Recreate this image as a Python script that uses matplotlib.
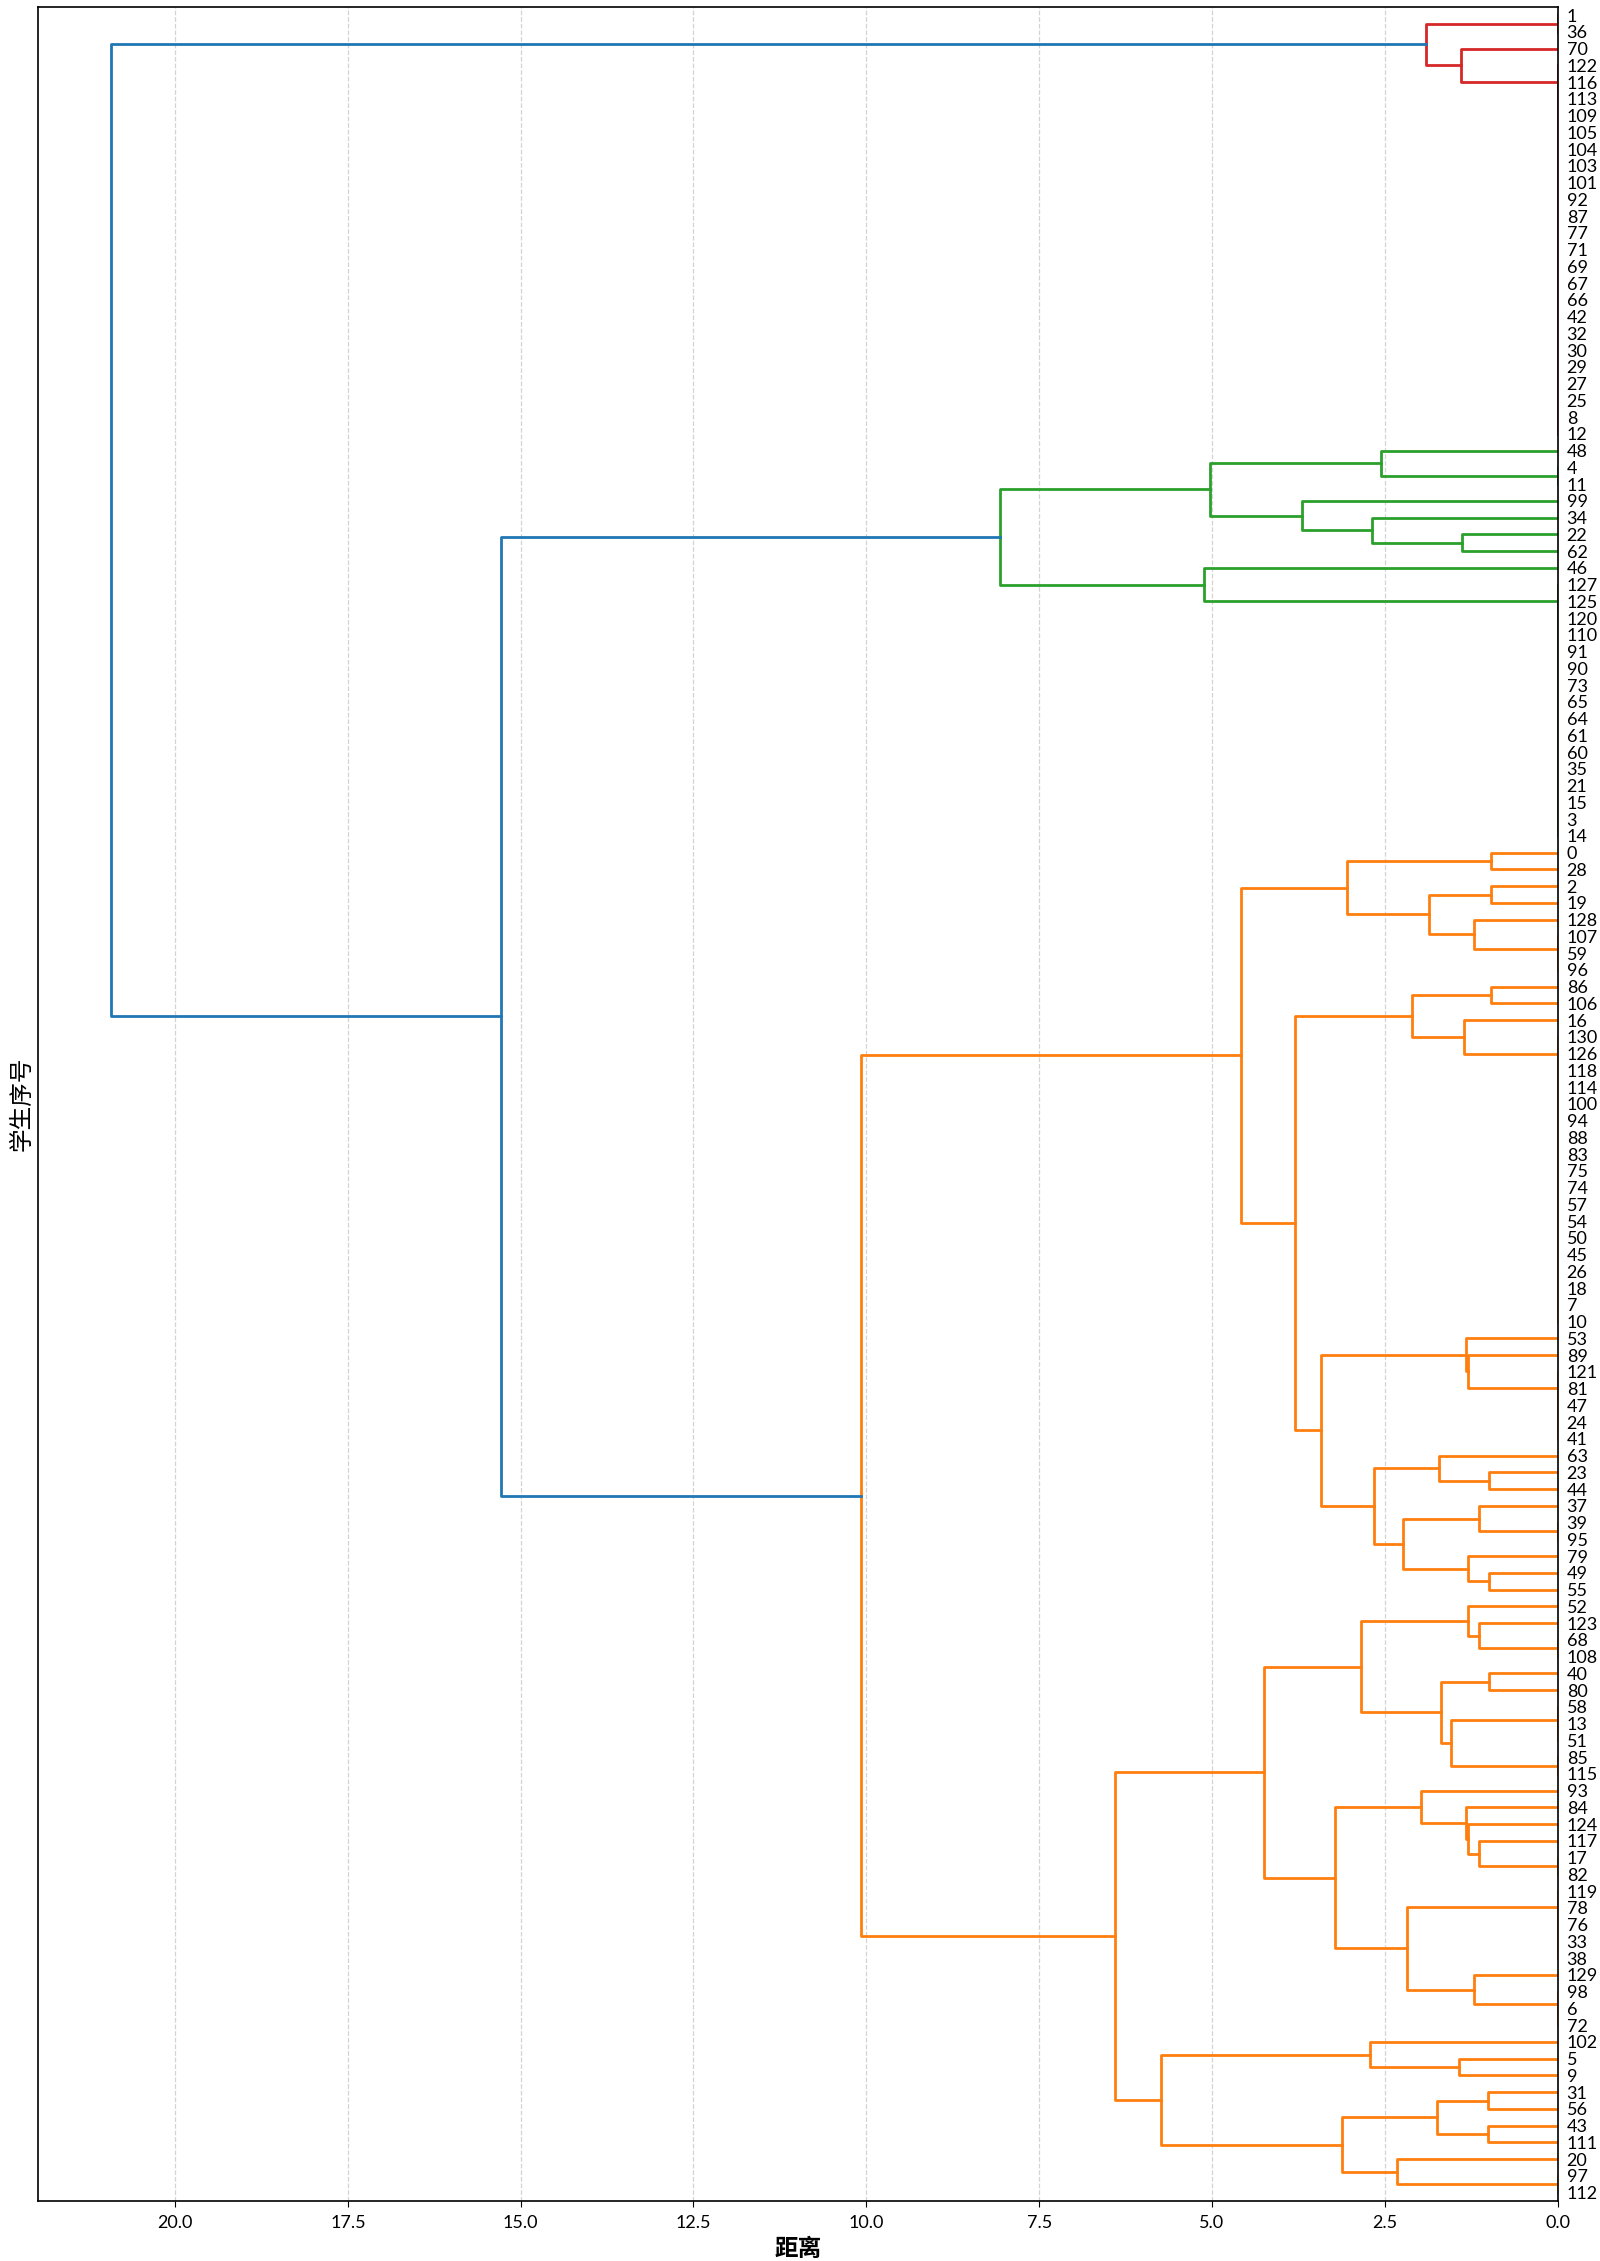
import matplotlib
matplotlib.use('Agg')
import matplotlib.pyplot as plt

plt.rcParams['font.family'] = ['Lato', 'Noto Sans CJK SC', 'DejaVu Sans']

# merges are (height, upper, lower); a list is a group of students at distance 0
red_tree = (1.91, [1, 36],
            (1.40, 70, [122, 116, 113, 109, 105, 104, 103, 101, 92, 87, 77, 71,
                        69, 67, 66, 42, 32, 30, 29, 27, 25, 8, 12]))

green_a = (5.03, (2.56, 48, [4, 11]),
           (3.70, 99, (2.69, 34, (1.39, 22, 62))))
green_b = (5.12, 46, [127, 125, 120, 110, 91, 90, 73, 65, 64, 61, 60, 35, 21, 15, 3, 14])
green_tree = (8.06, green_a, green_b)

orange_1 = (3.05, (0.97, 0, 28),
            (1.86, (0.97, 2, 19), (1.21, 128, [107, 59, 96])))
orange_2 = (2.11, (0.97, 86, 106),
            (1.36, 16, [130, 126, 118, 114, 100, 94, 88, 83, 75, 74, 57, 54, 50, 45, 26, 18, 7, 10]))
orange_3 = (1.33, 53, (1.29, 89, [121, 81, 47, 24, 41]))
orange_4 = (2.65, (1.72, 63, (0.99, 23, 44)),
            (2.24, (1.14, 37, [39, 95]), (1.29, 79, (0.99, 49, 55))))
orange_5 = (2.85, (1.29, 52, (1.14, 123, [68, 108])),
            (1.69, (0.99, 40, 80), (1.54, [58, 13, 51], [85, 115])))
orange_6 = (3.22, (1.97, 93, (1.33, 84, (1.29, 124, (1.14, 117, [17, 82])))),
            (2.18, [119, 78, 76, 33, 38], (1.21, 129, [98, 6, 72])))
orange_7 = (5.73, (2.72, 102, (1.42, 5, 9)),
            (3.12, (1.74, (1.01, 31, 56), (1.01, 43, 111)), (2.32, 20, [97, 112])))
orange_upper = (4.58, orange_1, (3.80, orange_2, (3.42, orange_3, orange_4)))
orange_lower = (6.40, (4.24, orange_5, orange_6), orange_7)
orange_tree = (10.08, orange_upper, orange_lower)

root_height = 20.93
upper_height = 15.28
tree = (root_height, red_tree, (upper_height, green_tree, orange_tree))

threshold = 0.7 * root_height
above_color = '#1f77b4'
cluster_colors = ['#d62728', '#2ca02c', '#ff7f0e']


def expand(node):
    if isinstance(node, list):
        if len(node) == 1:
            return node[0]
        return (0.0, node[0], expand(node[1:]))
    if isinstance(node, tuple):
        return (node[0], expand(node[1]), expand(node[2]))
    return node


order = []
colors_left = list(cluster_colors)


def draw(ax, node, color, lw):
    if not isinstance(node, tuple):
        order.append(node)
        return 5 + 10 * (len(order) - 1), 0.0
    h, a, b = node
    if color is None and h <= threshold:
        color = colors_left.pop(0)
    pa, ha = draw(ax, a, color, lw)
    pb, hb = draw(ax, b, color, lw)
    c = color if color is not None else above_color
    ax.plot([ha, h, h, hb], [pa, pa, pb, pb], color=c, linewidth=lw)
    return (pa + pb) / 2, h


fig = plt.figure(figsize=(16, 22.61), dpi=100)
ax = fig.add_axes([0.024, 0.0265, 0.9495, 0.9705])
ax.set_axisbelow(True)
ax.grid(axis='x', linestyle='--', color='#d3d3d3', linewidth=0.9)

draw(ax, expand(tree), None, 2.0)

n = len(order)
ax.set_ylim(10 * n, 0)
ax.set_xlim(root_height * 1.05, 0)
ax.set_xticks([0, 2.5, 5, 7.5, 10, 12.5, 15, 17.5, 20])
ax.set_yticks([5 + 10 * i for i in range(n)])
ax.set_yticklabels([str(v) for v in order], fontsize=13)
ax.tick_params(axis='y', left=False, right=False, labelleft=False, labelright=True, pad=3)
ax.tick_params(axis='x', labelsize=13, length=4, pad=6)
for s in ax.spines.values():
    s.set_color('black')
    s.set_linewidth(1.2)

ax.set_xlabel('距离', fontsize=17, fontweight='bold', labelpad=4)
ax.set_ylabel('学生序号', fontsize=17, labelpad=4)
ax.yaxis.set_label_position('left')

fig.savefig('out.png', dpi=100)
